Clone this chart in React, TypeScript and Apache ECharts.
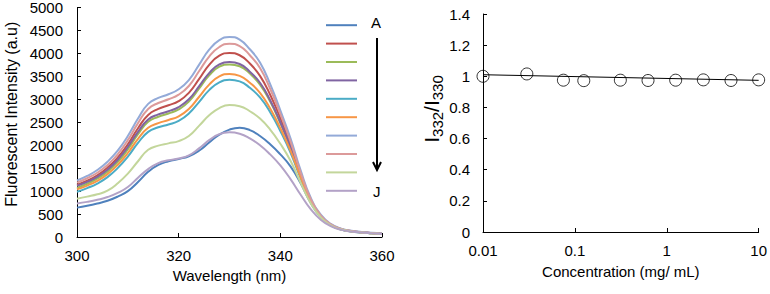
import React, { useEffect, useRef } from 'react';
import * as echarts from 'echarts';

const FONT = 'Arial, "Liberation Sans", sans-serif';

const wavelengths = [300, 302, 304, 306, 308, 310, 312, 314, 316, 318, 320, 322, 324, 326, 328, 330, 332, 334, 336, 338, 340, 342, 344, 346, 348, 350, 352, 354, 356, 358, 360];

const seriesA = [640, 680, 730, 790, 880, 1000, 1200, 1420, 1570, 1650, 1700, 1760, 1880, 2060, 2230, 2340, 2380, 2330, 2200, 2020, 1800, 1540, 1170, 740, 430, 255, 165, 122, 99, 82, 66];
const seriesB = [1140, 1230, 1345, 1510, 1730, 2020, 2370, 2660, 2790, 2870, 2960, 3140, 3440, 3750, 3950, 4010, 3960, 3780, 3510, 3100, 2590, 2020, 1370, 800, 450, 265, 170, 128, 104, 86, 70];
const seriesC = [1070, 1160, 1270, 1420, 1630, 1910, 2240, 2510, 2620, 2690, 2780, 2950, 3230, 3520, 3710, 3760, 3720, 3560, 3320, 2950, 2480, 1950, 1330, 785, 440, 260, 167, 125, 101, 84, 69];
const seriesD = [1115, 1200, 1310, 1465, 1680, 1960, 2290, 2560, 2670, 2740, 2830, 3000, 3280, 3570, 3760, 3810, 3770, 3600, 3360, 2980, 2500, 1960, 1340, 790, 445, 262, 168, 126, 102, 85, 70];
const seriesE = [985, 1065, 1165, 1305, 1500, 1750, 2050, 2290, 2390, 2450, 2530, 2690, 2940, 3200, 3370, 3425, 3390, 3250, 3040, 2720, 2310, 1840, 1280, 770, 438, 256, 165, 123, 99, 82, 67];
const seriesF = [1040, 1120, 1225, 1370, 1570, 1830, 2140, 2380, 2480, 2550, 2630, 2790, 3050, 3320, 3500, 3550, 3510, 3360, 3140, 2800, 2370, 1880, 1300, 775, 440, 258, 166, 124, 100, 83, 68];
const seriesG = [1230, 1330, 1460, 1640, 1880, 2200, 2580, 2900, 3030, 3110, 3220, 3420, 3750, 4080, 4290, 4360, 4300, 4090, 3800, 3330, 2760, 2150, 1450, 850, 480, 280, 180, 135, 110, 90, 75];
const seriesH = [1185, 1280, 1400, 1570, 1800, 2110, 2480, 2790, 2920, 3000, 3100, 3290, 3610, 3930, 4140, 4210, 4160, 3960, 3680, 3230, 2680, 2080, 1400, 820, 460, 270, 175, 130, 105, 88, 72];
const seriesI = [835, 880, 930, 1010, 1170, 1380, 1650, 1900, 1990, 2040, 2090, 2200, 2420, 2650, 2810, 2875, 2850, 2740, 2580, 2340, 2030, 1660, 1180, 730, 420, 250, 162, 121, 98, 81, 66];
const seriesJ = [730, 765, 810, 870, 960, 1090, 1290, 1480, 1610, 1670, 1710, 1780, 1930, 2110, 2240, 2280, 2250, 2150, 2000, 1800, 1560, 1260, 920, 600, 370, 230, 155, 118, 96, 80, 65];

const spectraNames = ['A', 'B', 'C', 'D', 'E', 'F', 'G', 'H', 'I', 'J'];
const spectraValues = [seriesA, seriesB, seriesC, seriesD, seriesE, seriesF, seriesG, seriesH, seriesI, seriesJ];
const spectraColors = ['#4F81BD', '#C0504D', '#9BBB59', '#8064A2', '#4BACC6', '#F79646', '#93AAD8', '#DC9A9A', '#C3D69B', '#B3A2C7'];

const concentrations = [0.01, 0.03, 0.075, 0.125, 0.3125, 0.625, 1.25, 2.5, 5, 10];
const ratios = [1.0, 1.015, 0.975, 0.972, 0.975, 0.973, 0.975, 0.977, 0.973, 0.977];
const trendX = [0.01, 10];
const trendY = [1.01, 0.974];

export default function App() {
  const ref = useRef<HTMLDivElement>(null);
  useEffect(() => {
    const chart = echarts.init(ref.current!, null, { renderer: 'svg' });
    const axisLine = { show: true, lineStyle: { color: '#000', width: 1 } };
    const labelStyle = { color: '#000', fontSize: 15, fontFamily: FONT };
    const spectraSeries = spectraNames.map((n, i) => ({
      name: n,
      type: 'line',
      xAxisIndex: 0,
      yAxisIndex: 0,
      smooth: 0.5,
      symbol: 'none',
      lineStyle: { width: 2, color: spectraColors[i] },
      itemStyle: { color: spectraColors[i] },
      data: wavelengths.map((w, j) => [w, spectraValues[i][j]]),
    }));
    chart.setOption({
      animation: false,
      textStyle: { fontFamily: FONT },
      grid: [
        { left: 77, right: 388, top: 6, bottom: 57, containLabel: false },
        { left: 483, right: 11, top: 14, bottom: 62, containLabel: false },
      ],
      legend: {
        data: spectraNames,
        orient: 'vertical',
        left: 321,
        top: 12,
        icon: 'rect',
        itemWidth: 31,
        itemHeight: 2,
        itemGap: 2,
        formatter: () => ' ',
        textStyle: { fontSize: 12, lineHeight: 16.4 },
        selectedMode: false,
      },
      xAxis: [
        {
          gridIndex: 0,
          type: 'value',
          min: 300,
          max: 360,
          interval: 20,
          axisLine,
          axisTick: { show: true, inside: true, length: 4, lineStyle: { color: '#000' } },
          axisLabel: { ...labelStyle, margin: 11 },
          splitLine: { show: false },
          name: 'Wavelength (nm)',
          nameLocation: 'middle',
          nameGap: 31,
          nameTextStyle: { ...labelStyle },
        },
        {
          gridIndex: 1,
          type: 'log',
          logBase: 10,
          min: 0.01,
          max: 10,
          axisLine,
          axisTick: { show: true, inside: true, length: 4, lineStyle: { color: '#000' } },
          axisLabel: { ...labelStyle, margin: 11, formatter: (v: number) => String(v) },
          splitLine: { show: false },
          minorTick: { show: false },
          name: 'Concentration (mg/ mL)',
          nameLocation: 'middle',
          nameGap: 32,
          nameTextStyle: { ...labelStyle },
        },
      ],
      yAxis: [
        {
          gridIndex: 0,
          type: 'value',
          min: 0,
          max: 5000,
          interval: 500,
          axisLine,
          axisTick: { show: true, inside: true, length: 4, lineStyle: { color: '#000' } },
          axisLabel: { ...labelStyle, margin: 14, formatter: (v: number) => String(v) },
          splitLine: { show: false },
          name: 'Fluorescent Intensity (a.u)',
          nameLocation: 'middle',
          nameGap: 58,
          nameTextStyle: { ...labelStyle, fontSize: 16, padding: [0, 0, 0, 16] },
        },
        {
          gridIndex: 1,
          type: 'value',
          min: 0,
          max: 1.4,
          interval: 0.2,
          axisLine,
          axisTick: { show: true, inside: true, length: 4, lineStyle: { color: '#000' } },
          axisLabel: { ...labelStyle, margin: 13, formatter: (v: number) => String(Math.round(v * 10) / 10) },
          splitLine: { show: false },
          name: '{m|I}{s|332}{m|/I}{s|330}',
          nameLocation: 'middle',
          nameGap: 36,
          nameTextStyle: {
            color: '#000',
            padding: [0, 0, 0, 28],
            rich: {
              m: { fontSize: 21, fontFamily: FONT, color: '#000' },
              s: { fontSize: 15, fontFamily: FONT, color: '#000', padding: [12, 0, 0, 0] },
            },
          },
        },
      ],
      graphic: [
        { type: 'text', left: 371, top: 15, style: { text: 'A', fontSize: 15, fontFamily: FONT, fill: '#000' } },
        { type: 'text', left: 373, top: 184, style: { text: 'J', fontSize: 15, fontFamily: FONT, fill: '#000' } },
        { type: 'line', shape: { x1: 377, y1: 38, x2: 377, y2: 169 }, style: { stroke: '#000', lineWidth: 2 } },
        { type: 'polyline', shape: { points: [[373, 162], [377, 170], [381, 162]] }, style: { stroke: '#000', lineWidth: 2, fill: 'none' } },
      ],
      series: [
        ...spectraSeries,
        {
          name: 'trend',
          type: 'line',
          xAxisIndex: 1,
          yAxisIndex: 1,
          symbol: 'none',
          lineStyle: { color: '#000', width: 1 },
          data: trendX.map((x, i) => [x, trendY[i]]),
          z: 1,
        },
        {
          name: 'ratio',
          type: 'scatter',
          xAxisIndex: 1,
          yAxisIndex: 1,
          symbol: 'circle',
          symbolSize: 12,
          itemStyle: { color: 'rgba(0,0,0,0)', borderColor: '#000', borderWidth: 1 },
          data: concentrations.map((c, i) => [c, ratios[i]]),
          z: 3,
        },
      ],
    });
    return () => chart.dispose();
  }, []);
  return <div ref={ref} style={{ position: 'absolute', left: 0, top: 0, width: 770, height: 294 }} />;
}
